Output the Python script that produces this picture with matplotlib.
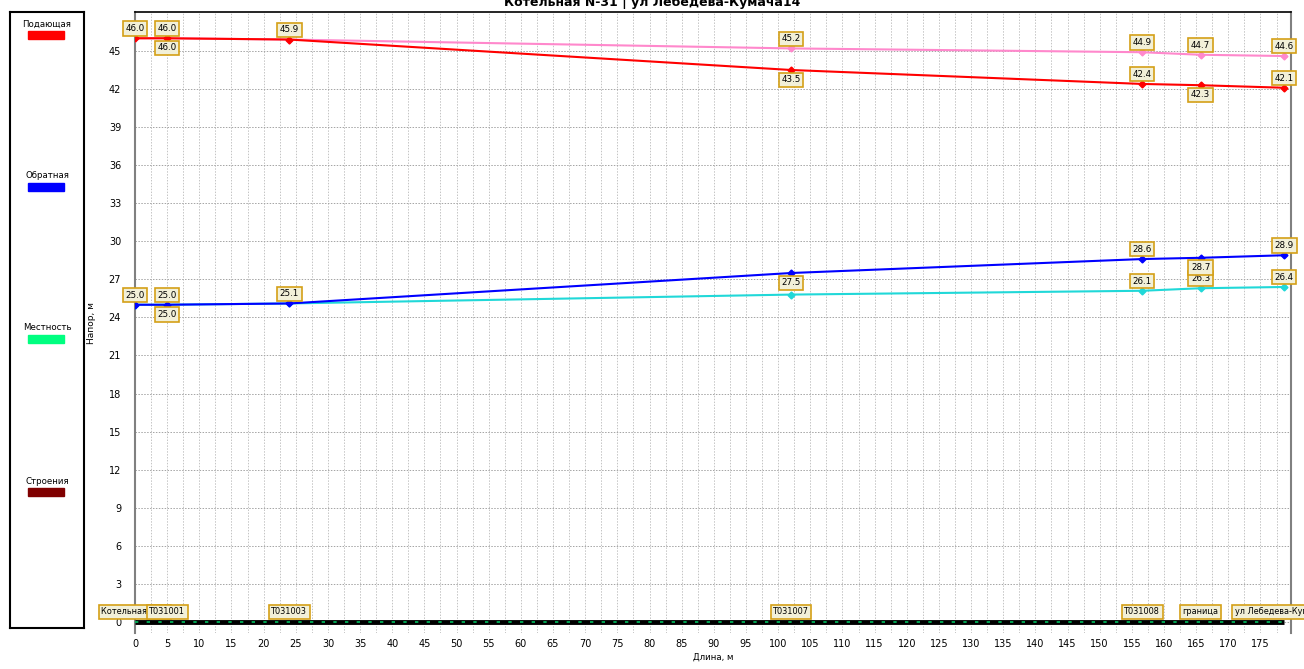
import matplotlib
matplotlib.use("Agg")
import matplotlib.pyplot as plt
import numpy as np

plt.rcParams['font.family'] = ['DejaVu Sans']

# distance along the route, m
dist = [0, 5, 24, 102, 156.6, 165.7, 178.7]
nodes = ["Котельная N-31", "T031001", "T031003", "T031007", "T031008", "граница", "ул Лебедева-Кумача14"]

# heads, m
supply = [46.0, 46.0, 45.9, 43.5, 42.4, 42.3, 42.1]
supply_pink = [46.0, 46.0, 45.9, 45.2, 44.9, 44.7, 44.6]
ret = [25.0, 25.0, 25.1, 27.5, 28.6, 28.7, 28.9]
ret_cyan = [25.0, 25.0, 25.1, 25.8, 26.1, 26.3, 26.4]
terrain = [0, 0, 0, 0, 0, 0, 0]

# where the value boxes go: 1 above, -1 below, 0 none
supply_lbl = [1, -1, 0, -1, 1, -1, 1]
pink_lbl = [0, 1, 1, 1, 1, 1, 1]
ret_lbl = [1, -1, 0, -1, 1, -1, 1]
cyan_lbl = [0, 1, 1, 0, 1, 1, 1]

legend_names = ["Подающая", "Обратная", "Местность", "Строения"]
legend_colors = ["#ff0000", "#0000ff", "#00ff80", "#800000"]

W, H = 1304, 669
fig = plt.figure(figsize=(W / 100, H / 100), dpi=100)

box = dict(boxstyle="square,pad=0.3", fc="#f2f0d8", ec="#d4a017", lw=1.2)

# ---- legend panel on the left
lg = fig.add_axes([10 / W, 1 - 628 / H, 74 / W, 616 / H])
lg.set_xlim(0, 74)
lg.set_ylim(616, 0)
lg.set_xticks([])
lg.set_yticks([])
for s in lg.spines.values():
    s.set_linewidth(1.5)
leg_y = [12, 164, 316, 469]
for name, col, yy in zip(legend_names, legend_colors, leg_y):
    lg.text(37, yy, name, ha="center", va="center", fontsize=6.2)
    lg.add_patch(plt.Rectangle((18, yy + 7), 36, 8, color=col))

# ---- main chart
ax = fig.add_axes([135 / W, 1 - 633 / H, (1290.7 - 135) / W, 621 / H])
ax.set_xlim(0, 179.7)
ax.set_ylim(-0.87, 48.07)
ax.set_xticks(np.arange(0, 180, 5))
ax.set_xticks(np.arange(2.5, 180, 5), minor=True)
ax.set_yticks(np.arange(0, 46, 3))
ax.tick_params(axis="both", which="both", length=0, labelsize=7)
ax.tick_params(axis="x", pad=4)
ax.tick_params(axis="y", pad=10)
ax.grid(True, which="both", axis="x", color="#c4c4c4", lw=0.7, ls=(0, (1.5, 1.5)))
ax.grid(True, which="major", axis="y", color="#a4a4a4", lw=0.7, ls=(0, (1.5, 1.5)))
ax.set_axisbelow(True)
ax.spines["bottom"].set_visible(False)
ax.spines["left"].set_color("#808080")
ax.spines["left"].set_linewidth(1.5)
ax.spines["right"].set_color("#808080")
ax.spines["right"].set_linewidth(1.5)
ax.spines["top"].set_linewidth(1.2)

ax.set_xlabel("Длина, м", fontsize=6.2, labelpad=3)
ax.set_ylabel("Напор, м", fontsize=6.5, labelpad=9)

# terrain / buildings along the bottom
ax.plot(dist, terrain, color="black", lw=3.5, solid_capstyle="butt", zorder=3)
ax.plot(dist, terrain, color="#00c060", lw=1.2, ls=(0, (2, 5)), zorder=4)

series = [
    (supply_pink, "#ff88cc", pink_lbl),
    (supply, "#ff0000", supply_lbl),
    (ret_cyan, "#20d8d8", cyan_lbl),
    (ret, "#0000ff", ret_lbl),
]
for vals, col, lbl in series:
    ax.plot(dist, vals, color=col, lw=1.5, marker="D", ms=3.5, zorder=5)
    for xv, yv, pos in zip(dist, vals, lbl):
        if pos == 0:
            continue
        ax.annotate("%.1f" % yv, (xv, yv), xytext=(0, 7 * pos), textcoords="offset points",
                    ha="center", va="center", fontsize=6.3, bbox=box, zorder=8,
                    annotation_clip=False)

# node names along the zero line
for i, (xv, name) in enumerate(zip(dist, nodes)):
    ax.annotate(name, (xv, 0), xytext=(0, 7.2), textcoords="offset points",
                ha="center", va="center", fontsize=5.9, bbox=box, zorder=10 + i,
                annotation_clip=False)

fig.text(0.5, 1 - 6 / H, "Котельная N-31 | ул Лебедева-Кумача14", ha="center",
         va="baseline", fontsize=9, fontweight="bold")

fig.savefig("out.png", dpi=100)
